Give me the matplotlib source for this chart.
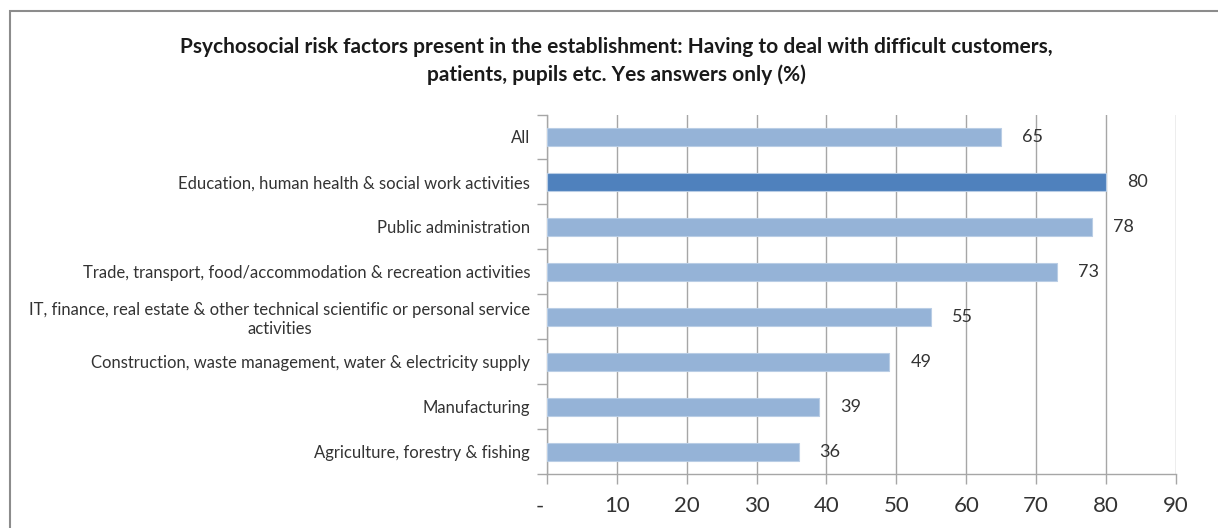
import matplotlib
matplotlib.use('Agg')
import matplotlib.pyplot as plt
from matplotlib.patches import Rectangle
from matplotlib.transforms import ScaledTranslation

# data, top to bottom as in the chart
categories = ['All',
              'Education, human health & social work activities',
              'Public administration',
              'Trade, transport, food/accommodation & recreation activities',
              'IT, finance, real estate & other technical scientific or personal service\nactivities',
              'Construction, waste management, water & electricity supply',
              'Manufacturing',
              'Agriculture, forestry & fishing']
values = [65, 80, 78, 73, 55, 49, 39, 36]
highlight = 'Education, human health & social work activities'

x_ticks = [0, 10, 20, 30, 40, 50, 60, 70, 80, 90]
x_tick_labels = ['-', '10', '20', '30', '40', '50', '60', '70', '80', '90']

title = ('Psychosocial risk factors present in the establishment: Having to deal with difficult customers,\n'
         'patients, pupils etc. Yes answers only (%)')

light = '#95b3d7'
dark = '#4f81bd'
grid_col = '#a6a6a6'
txt_col = '#333333'

plt.rcParams['font.family'] = ['Lato', 'DejaVu Sans']

fig = plt.figure(figsize=(12.18, 5.28), dpi=100, facecolor='white')
ax = fig.add_axes([0.449, 0.1023, 0.5165, 0.6808])

pos = list(range(len(categories)))
cols = [dark if c == highlight else light for c in categories]
ax.barh(pos, values, height=0.4, color=cols, edgecolor='#b9cde5', linewidth=0.8, zorder=3)

for p, v in zip(pos, values):
    ax.text(v + 3, p, str(v), va='center', ha='left', fontsize=13, color=txt_col, zorder=4)

ax.set_xlim(0, 90)
ax.set_ylim(len(categories) - 0.5, -0.5)

ax.set_xticks(x_ticks)
ax.set_xticklabels(x_tick_labels, fontsize=16, color=txt_col)
ax.tick_params(axis='x', length=7, width=1, color=grid_col, pad=9)
# the "-" for zero sits a little left of the axis
dash = ax.get_xticklabels()[0]
dash.set_transform(dash.get_transform() + ScaledTranslation(-7 / 100, 0, fig.dpi_scale_trans))

# category labels as minor ticks, boundary ticks as major
ax.set_yticks([p - 0.5 for p in pos] + [len(pos) - 0.5])
ax.set_yticklabels([])
ax.set_yticks(pos, minor=True)
ax.set_yticklabels(categories, minor=True, fontsize=12, color=txt_col, multialignment='center')
ax.tick_params(axis='y', which='major', length=7, width=1, color=grid_col)
ax.tick_params(axis='y', which='minor', length=0, pad=12)

ax.grid(axis='x', color=grid_col, linewidth=1, zorder=0)
for s in ['top', 'right']:
    ax.spines[s].set_visible(False)
for s in ['left', 'bottom']:
    ax.spines[s].set_color(grid_col)
    ax.spines[s].set_linewidth(1)

fig.text(0.506, 0.8845, title, ha='center', va='center', fontsize=15, fontweight='bold',
         color='#1a1a1a', linespacing=1.4)

# outer frame, open to the right and bottom
fig.patches.append(Rectangle((10 / 1218, -0.1), 1.2, 1 - 11 / 528 + 0.1, transform=fig.transFigure,
                             fill=False, edgecolor='#8c8c8c', linewidth=1.5))

fig.savefig('out.png', dpi=100, facecolor='white')
